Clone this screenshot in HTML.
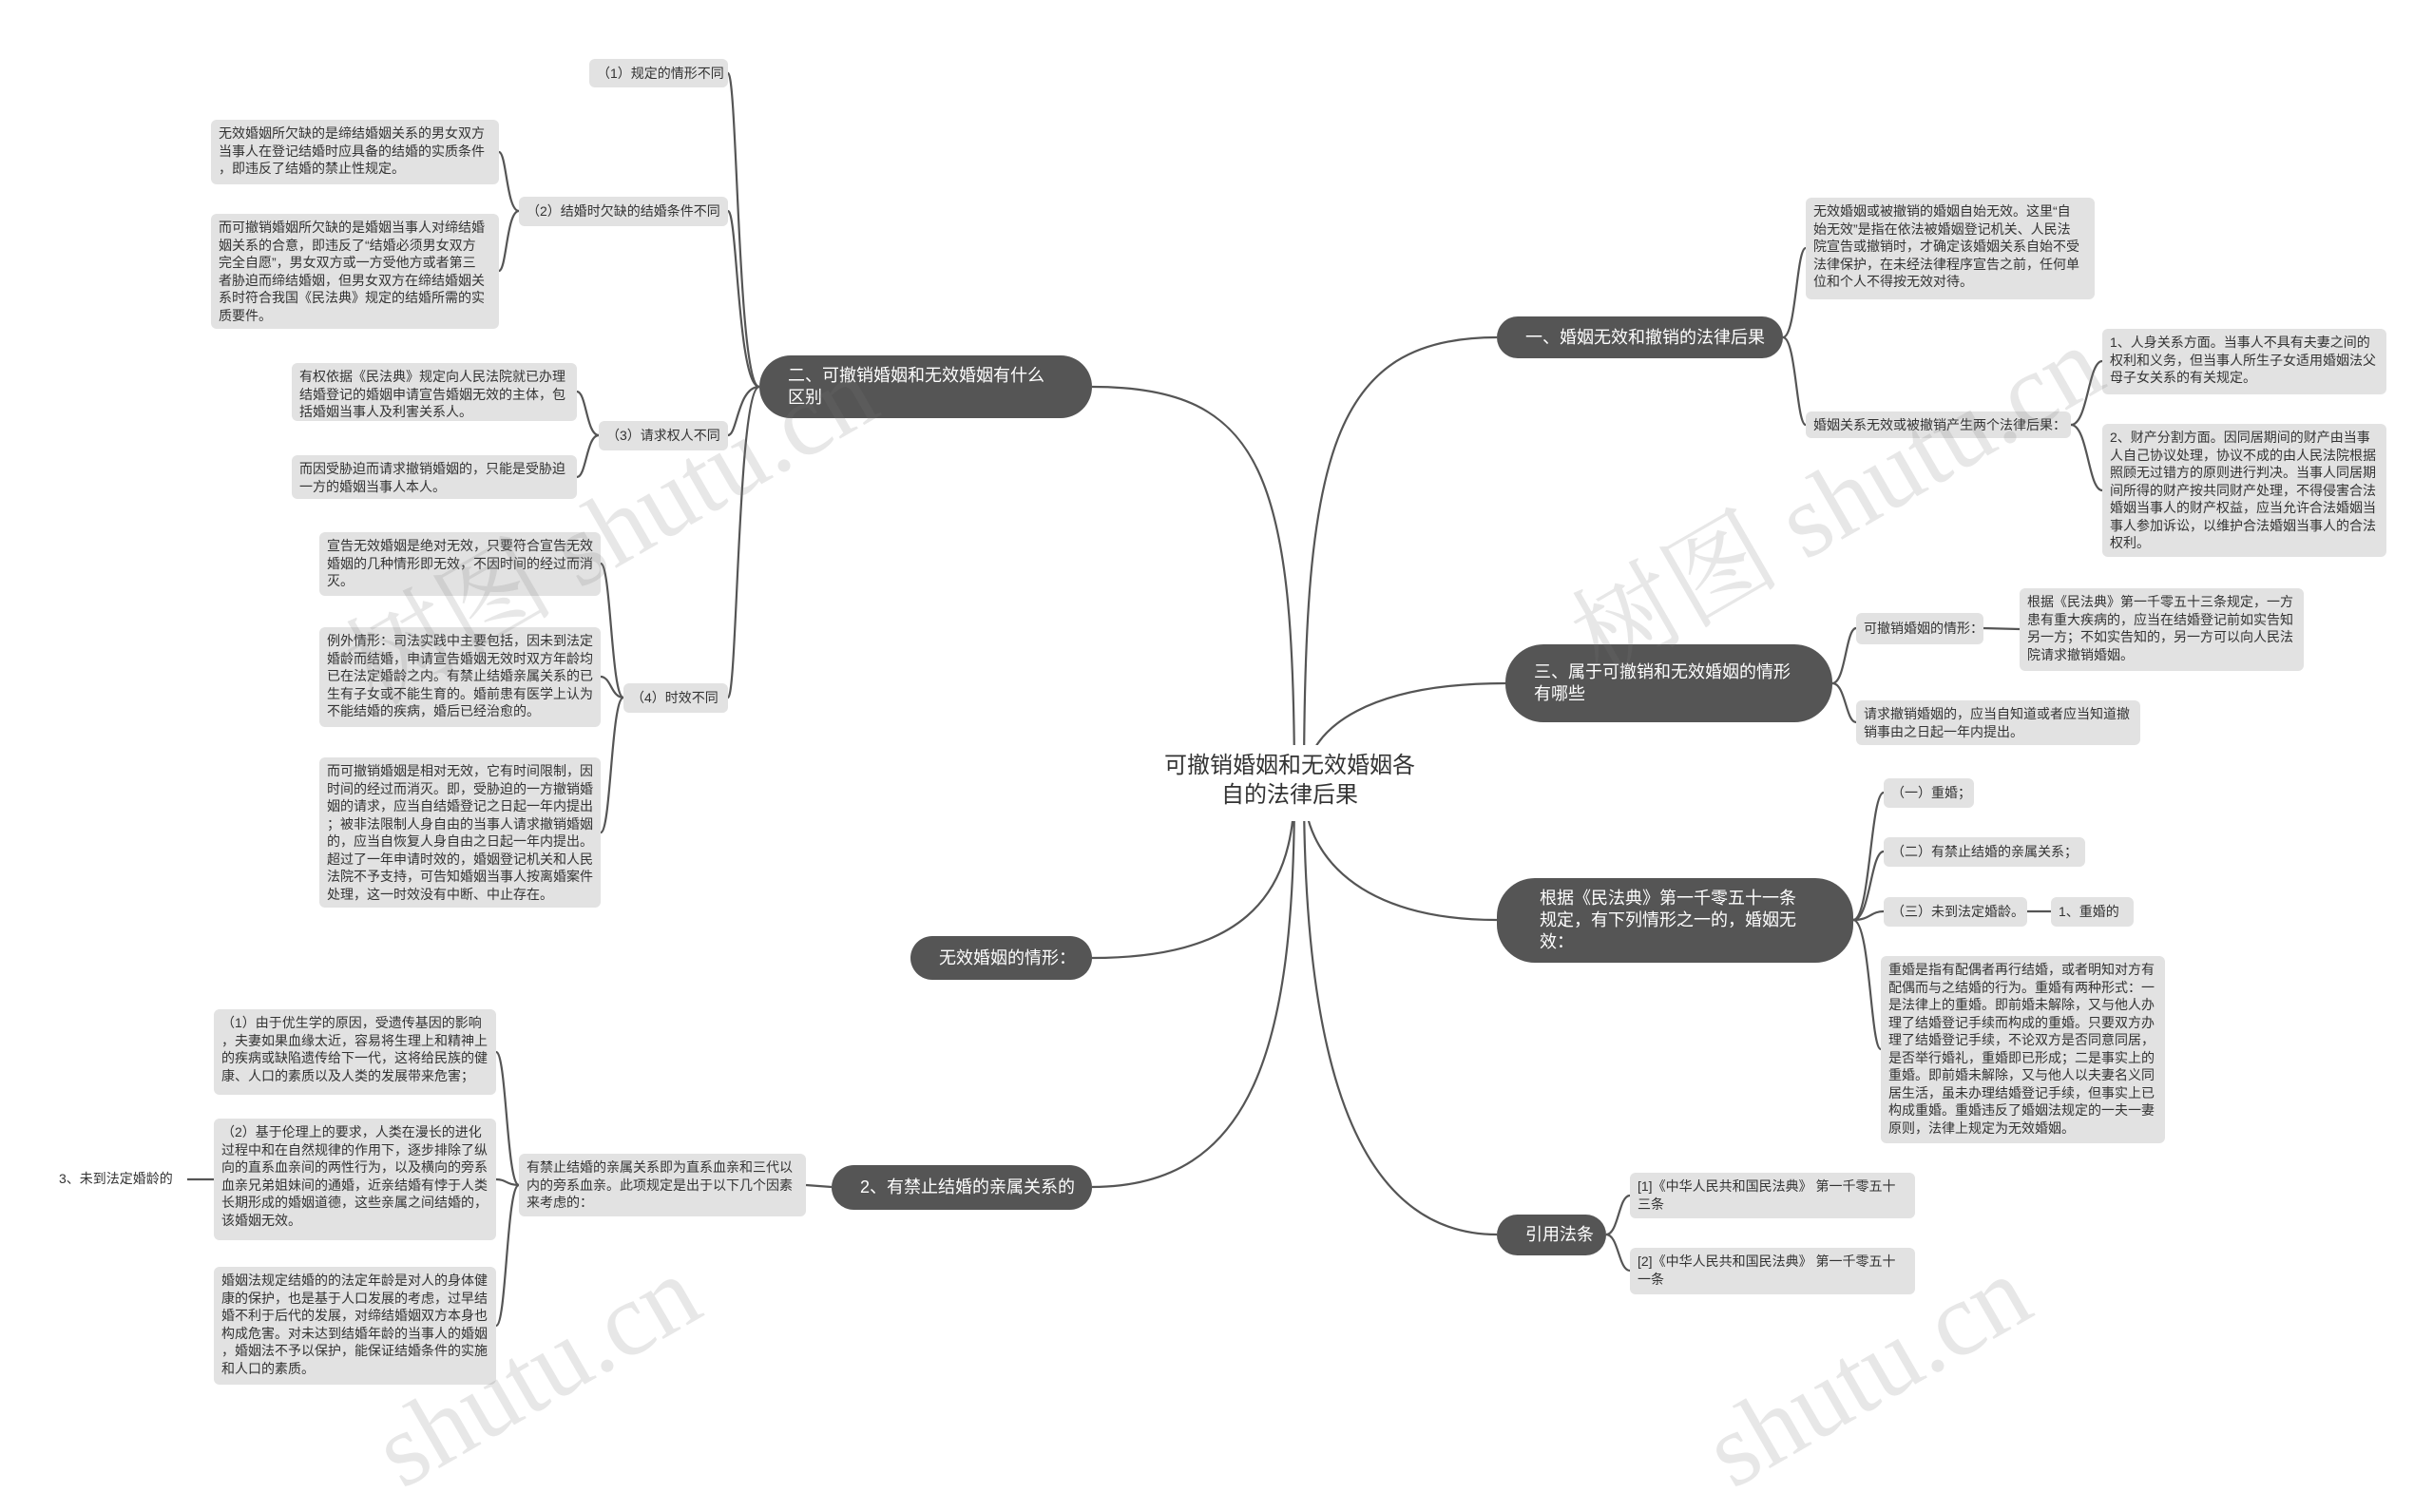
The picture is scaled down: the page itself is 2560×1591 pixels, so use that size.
<!DOCTYPE html>
<html><head><meta charset="utf-8"><style>
html,body{margin:0;padding:0;background:#fff;}
body{width:2560px;height:1511px;position:relative;overflow:hidden;font-family:"Liberation Sans","Noto Sans CJK SC",sans-serif;}
.b{position:absolute;background:#e2e2e2;border-radius:6px;font-size:14px;line-height:18.5px;padding:5px 8px;color:#333;white-space:nowrap;box-sizing:border-box;}
.s{display:flex;align-items:center;}
.m{position:absolute;background:#555;color:#fff;border-radius:40px;font-size:18px;line-height:23px;display:flex;align-items:center;box-sizing:border-box;padding-left:30px;white-space:nowrap;}
.w{position:absolute;font-family:"Liberation Serif","Noto Serif CJK SC",serif;font-size:110px;color:rgba(120,120,120,0.18);transform:rotate(-30deg);white-space:nowrap;transform-origin:center;}
svg{position:absolute;left:0;top:0;}
</style></head><body>
<svg width="2560" height="1511" fill="none" stroke="#555" stroke-width="2.2">
<path d="M1149,407 C1330,407 1362,500 1362,829"/>
<path d="M1149,1008 C1300,1008 1362,950 1362,829"/>
<path d="M1149,1249 C1320,1249 1362,1100 1362,829"/>
<path d="M1575,355 C1400,355 1372,480 1372,829"/>
<path d="M1584,719 C1450,719 1372,760 1372,829"/>
<path d="M1575,968 C1430,968 1372,900 1372,829"/>
<path d="M1575,1299 C1420,1299 1372,1100 1372,829"/>
<path d="M799,407 C776,407 776,77 766,77"/>
<path d="M799,407 C776,407 776,222 766,222"/>
<path d="M799,407 C776,407 776,458 766,458"/>
<path d="M799,407 C776,407 776,734 766,734"/>
<path d="M546,222 C533,222 533,160 525,160"/>
<path d="M546,222 C533,222 533,285 525,285"/>
<path d="M630,458 C617,458 617,412 607,412"/>
<path d="M630,458 C617,458 617,502 607,502"/>
<path d="M656,734 C643,734 643,593 632,593"/>
<path d="M656,734 C643,734 643,712 632,712"/>
<path d="M656,734 C643,734 643,876 632,876"/>
<path d="M875,1249 L848,1247"/>
<path d="M546,1247 C533,1247 533,1107 522,1107"/>
<path d="M546,1247 C533,1247 533,1241 522,1241"/>
<path d="M546,1247 C533,1247 533,1395 522,1395"/>
<path d="M197,1241 L225,1241"/>
<path d="M1876,355 C1890,355 1890,261 1900,261"/>
<path d="M1876,355 C1890,355 1890,447 1900,447"/>
<path d="M2179,447 C2197,447 2197,380 2212,380"/>
<path d="M2179,447 C2197,447 2197,516 2212,516"/>
<path d="M1928,719 C1942,719 1942,661 1953,661"/>
<path d="M1928,719 C1942,719 1942,760 1953,760"/>
<path d="M2087,661 L2125,662"/>
<path d="M1950,968 C1968,968 1968,834 1982,834"/>
<path d="M1950,968 C1968,968 1968,896 1982,896"/>
<path d="M1950,968 C1968,968 1968,959 1982,959"/>
<path d="M1950,968 C1968,968 1968,1104 1979,1104"/>
<path d="M2133,959 L2158,959"/>
<path d="M1690,1299 C1703,1299 1703,1258 1715,1258"/>
<path d="M1690,1299 C1703,1299 1703,1337 1715,1337"/>
</svg>

<div style="position:absolute;left:1212px;top:784px;width:290px;height:80px;background:#fff;"></div>
<div style="position:absolute;left:1212px;top:790px;width:290px;text-align:center;font-size:24px;line-height:31px;color:#333;">可撤销婚姻和无效婚姻各<br>自的法律后果</div>

<div class="m" style="left:799px;top:374px;width:350px;height:66px;">二、可撤销婚姻和无效婚姻有什么<br>区别</div>
<div class="m" style="left:958px;top:985px;width:191px;height:46px;">无效婚姻的情形：</div>
<div class="m" style="left:875px;top:1226px;width:274px;height:47px;">2、有禁止结婚的亲属关系的</div>
<div class="m" style="left:1575px;top:333px;width:301px;height:44px;">一、婚姻无效和撤销的法律后果</div>
<div class="m" style="left:1584px;top:678px;width:344px;height:82px;">三、属于可撤销和无效婚姻的情形<br>有哪些</div>
<div class="m" style="left:1575px;top:924px;width:375px;height:89px;padding-left:45px;">根据《民法典》第一千零五十一条<br>规定，有下列情形之一的，婚姻无<br>效：</div>
<div class="m" style="left:1575px;top:1278px;width:115px;height:43px;">引用法条</div>

<div class="b s" style="left:620px;top:62px;width:146px;height:30px;">（1）规定的情形不同</div>
<div class="b" style="left:222px;top:126px;width:303px;height:68px;">无效婚姻所欠缺的是缔结婚姻关系的男女双方<br>当事人在登记结婚时应具备的结婚的实质条件<br>，即违反了结婚的禁止性规定。</div>
<div class="b" style="left:222px;top:225px;width:303px;height:121px;">而可撤销婚姻所欠缺的是婚姻当事人对缔结婚<br>姻关系的合意，即违反了“结婚必须男女双方<br>完全自愿”，男女双方或一方受他方或者第三<br>者胁迫而缔结婚姻，但男女双方在缔结婚姻关<br>系时符合我国《民法典》规定的结婚所需的实<br>质要件。</div>
<div class="b s" style="left:546px;top:207px;width:220px;height:31px;">（2）结婚时欠缺的结婚条件不同</div>
<div class="b" style="left:307px;top:382px;width:300px;height:61px;">有权依据《民法典》规定向人民法院就已办理<br>结婚登记的婚姻申请宣告婚姻无效的主体，包<br>括婚姻当事人及利害关系人。</div>
<div class="b" style="left:307px;top:479px;width:300px;height:46px;">而因受胁迫而请求撤销婚姻的，只能是受胁迫<br>一方的婚姻当事人本人。</div>
<div class="b s" style="left:630px;top:443px;width:136px;height:31px;">（3）请求权人不同</div>
<div class="b" style="left:336px;top:560px;width:296px;height:67px;">宣告无效婚姻是绝对无效，只要符合宣告无效<br>婚姻的几种情形即无效，不因时间的经过而消<br>灭。</div>
<div class="b" style="left:336px;top:660px;width:296px;height:105px;">例外情形：司法实践中主要包括，因未到法定<br>婚龄而结婚，申请宣告婚姻无效时双方年龄均<br>已在法定婚龄之内。有禁止结婚亲属关系的已<br>生有子女或不能生育的。婚前患有医学上认为<br>不能结婚的疾病，婚后已经治愈的。</div>
<div class="b" style="left:336px;top:797px;width:296px;height:158px;">而可撤销婚姻是相对无效，它有时间限制，因<br>时间的经过而消灭。即，受胁迫的一方撤销婚<br>姻的请求，应当自结婚登记之日起一年内提出<br>；被非法限制人身自由的当事人请求撤销婚姻<br>的，应当自恢复人身自由之日起一年内提出。<br>超过了一年申请时效的，婚姻登记机关和人民<br>法院不予支持，可告知婚姻当事人按离婚案件<br>处理，这一时效没有中断、中止存在。</div>
<div class="b s" style="left:656px;top:719px;width:110px;height:31px;">（4）时效不同</div>

<div class="b" style="left:225px;top:1062px;width:297px;height:90px;">（1）由于优生学的原因，受遗传基因的影响<br>，夫妻如果血缘太近，容易将生理上和精神上<br>的疾病或缺陷遗传给下一代，这将给民族的健<br>康、人口的素质以及人类的发展带来危害；</div>
<div class="b" style="left:225px;top:1177px;width:297px;height:128px;">（2）基于伦理上的要求，人类在漫长的进化<br>过程中和在自然规律的作用下，逐步排除了纵<br>向的直系血亲间的两性行为，以及横向的旁系<br>血亲兄弟姐妹间的通婚，近亲结婚有悖于人类<br>长期形成的婚姻道德，这些亲属之间结婚的，<br>该婚姻无效。</div>
<div class="b" style="left:225px;top:1333px;width:297px;height:124px;">婚姻法规定结婚的的法定年龄是对人的身体健<br>康的保护，也是基于人口发展的考虑，过早结<br>婚不利于后代的发展，对缔结婚姻双方本身也<br>构成危害。对未达到结婚年龄的当事人的婚姻<br>，婚姻法不予以保护，能保证结婚条件的实施<br>和人口的素质。</div>
<div class="b" style="left:546px;top:1214px;width:302px;height:66px;">有禁止结婚的亲属关系即为直系血亲和三代以<br>内的旁系血亲。此项规定是出于以下几个因素<br>来考虑的：</div>
<div class="b s" style="left:54px;top:1226px;width:143px;height:29px;background:#fff;">3、未到法定婚龄的</div>

<div class="b" style="left:1900px;top:208px;width:304px;height:107px;">无效婚姻或被撤销的婚姻自始无效。这里“自<br>始无效”是指在依法被婚姻登记机关、人民法<br>院宣告或撤销时，才确定该婚姻关系自始不受<br>法律保护，在未经法律程序宣告之前，任何单<br>位和个人不得按无效对待。</div>
<div class="b s" style="left:1900px;top:433px;width:279px;height:28px;">婚姻关系无效或被撤销产生两个法律后果：</div>
<div class="b" style="left:2212px;top:346px;width:299px;height:69px;">1、人身关系方面。当事人不具有夫妻之间的<br>权利和义务，但当事人所生子女适用婚姻法父<br>母子女关系的有关规定。</div>
<div class="b" style="left:2212px;top:446px;width:299px;height:140px;">2、财产分割方面。因同居期间的财产由当事<br>人自己协议处理，协议不成的由人民法院根据<br>照顾无过错方的原则进行判决。当事人同居期<br>间所得的财产按共同财产处理，不得侵害合法<br>婚姻当事人的财产权益，应当允许合法婚姻当<br>事人参加诉讼，以维护合法婚姻当事人的合法<br>权利。</div>
<div class="b s" style="left:1953px;top:645px;width:134px;height:33px;">可撤销婚姻的情形：</div>
<div class="b" style="left:2125px;top:619px;width:299px;height:87px;">根据《民法典》第一千零五十三条规定，一方<br>患有重大疾病的，应当在结婚登记前如实告知<br>另一方；不如实告知的，另一方可以向人民法<br>院请求撤销婚姻。</div>
<div class="b" style="left:1953px;top:737px;width:299px;height:47px;">请求撤销婚姻的，应当自知道或者应当知道撤<br>销事由之日起一年内提出。</div>
<div class="b s" style="left:1982px;top:819px;width:95px;height:31px;">（一）重婚；</div>
<div class="b s" style="left:1982px;top:881px;width:212px;height:31px;">（二）有禁止结婚的亲属关系；</div>
<div class="b s" style="left:1982px;top:944px;width:151px;height:31px;">（三）未到法定婚龄。</div>
<div class="b s" style="left:2158px;top:944px;width:87px;height:31px;">1、重婚的</div>
<div class="b" style="left:1979px;top:1006px;width:299px;height:197px;">重婚是指有配偶者再行结婚，或者明知对方有<br>配偶而与之结婚的行为。重婚有两种形式：一<br>是法律上的重婚。即前婚未解除，又与他人办<br>理了结婚登记手续而构成的重婚。只要双方办<br>理了结婚登记手续，不论双方是否同意同居，<br>是否举行婚礼，重婚即已形成；二是事实上的<br>重婚。即前婚未解除，又与他人以夫妻名义同<br>居生活，虽未办理结婚登记手续，但事实上已<br>构成重婚。重婚违反了婚姻法规定的一夫一妻<br>原则，法律上规定为无效婚姻。</div>
<div class="b" style="left:1715px;top:1234px;width:300px;height:48px;">[1]《中华人民共和国民法典》 第一千零五十<br>三条</div>
<div class="b" style="left:1715px;top:1313px;width:300px;height:49px;">[2]《中华人民共和国民法典》 第一千零五十<br>一条</div>

<div class="w" style="left:330px;top:470px;">树图 shutu.cn</div>
<div class="w" style="left:1620px;top:440px;">树图 shutu.cn</div>
<div class="w" style="left:380px;top:1380px;">shutu.cn</div>
<div class="w" style="left:1780px;top:1380px;">shutu.cn</div>
</body></html>
